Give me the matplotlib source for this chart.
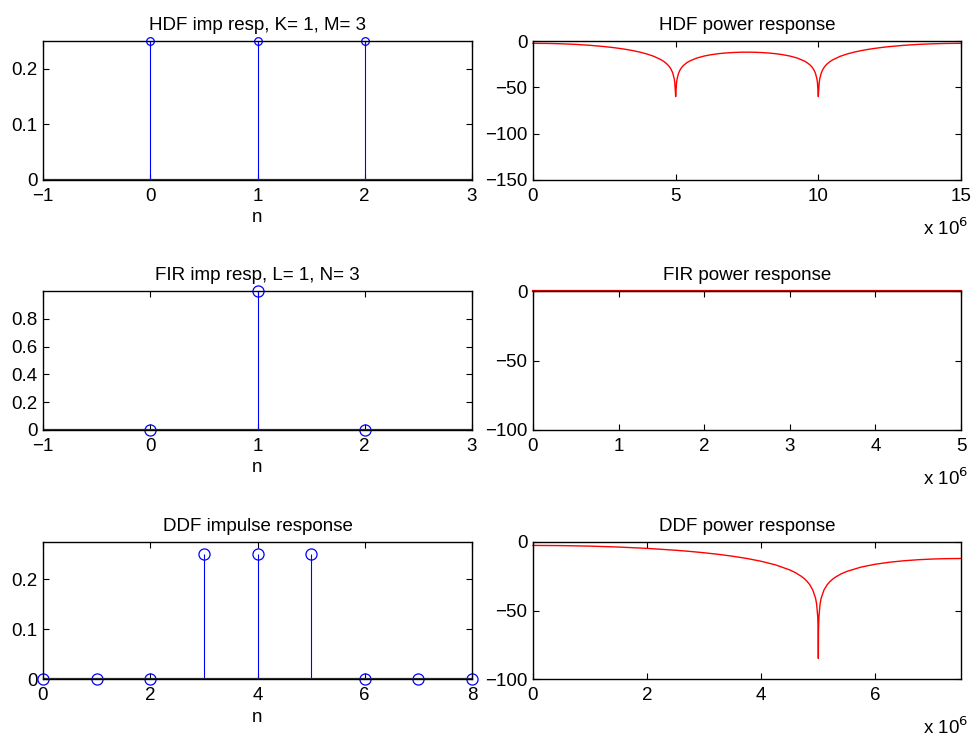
import numpy as np
import matplotlib
matplotlib.use('Agg')
import matplotlib.pyplot as plt
from matplotlib.ticker import FuncFormatter

plt.rcParams['font.family'] = ['Liberation Sans', 'DejaVu Sans']
plt.rcParams['font.size'] = 13.5

# impulse responses
hdf_n = [0, 1, 2]
hdf_h = [0.25, 0.25, 0.25]
fir_n = [0, 1, 2]
fir_h = [0, 1, 0]
ddf_n = [0, 1, 2, 3, 4, 5, 6, 7, 8]
ddf_h = [0, 0, 0, 0.25, 0.25, 0.25, 0, 0, 0]

# power responses, frequency in MHz, level in dB
hdf_f = [0, 0.5, 1, 1.5, 2, 2.5, 2.75, 3, 3.25, 3.5,
         3.75, 4, 4.25, 4.5, 4.6, 4.7, 4.75, 4.8, 4.85, 4.9,
         4.95, 4.97, 4.99, 5, 5.01, 5.03, 5.05, 5.1, 5.15, 5.2,
         5.25, 5.3, 5.4, 5.5, 5.75, 6, 6.25, 6.5, 6.75, 7,
         7.25, 7.5,
         7.75, 8, 8.25, 8.5, 8.75, 9, 9.25, 9.5,
         9.6, 9.7, 9.75, 9.8, 9.85, 9.9, 9.95, 9.97, 9.99, 10,
         10.01, 10.03, 10.05, 10.1, 10.15, 10.2, 10.25, 10.3, 10.4, 10.5,
         10.75, 11, 11.25, 11.5, 11.75, 12, 12.25, 12.5,
         13, 13.5, 14, 14.5, 15]
hdf_db = [-2.5, -2.63, -3.01, -3.68, -4.66, -6.02, -6.87, -7.86, -9.02, -10.39,
          -12.04, -14.08, -16.71, -20.4, -22.42, -25.0, -26.62, -28.61, -31.15, -34.85,
          -40.8, -45.25, -54.82, -60, -54.8, -45.3, -40.9, -34.94, -31.47, -29.03,
          -27.15, -25.63, -23.26, -21.46, -18.3, -16.22, -14.75, -13.69, -12.94, -12.43,
          -12.14, -12.04,
          -12.14, -12.43, -12.94, -13.69, -14.75, -16.22, -18.3, -21.46,
          -23.26, -25.63, -27.15, -29.03, -31.47, -34.94, -40.9, -45.3, -54.8, -60,
          -54.82, -45.25, -40.8, -34.85, -31.15, -28.61, -26.62, -25.0, -22.42, -20.4,
          -16.71, -14.08, -12.04, -10.39, -9.02, -7.86, -6.87, -6.02,
          -4.66, -3.68, -3.01, -2.63, -2.5]

fir_f = [0, 1, 2, 3, 4, 5]
fir_db = [0, 0, 0, 0, 0, 0]

ddf_f = [0, 0.5, 1, 1.5, 2, 2.5, 2.75, 3, 3.25, 3.5,
         3.75, 4, 4.25, 4.5, 4.6, 4.7, 4.75, 4.8, 4.85, 4.9,
         4.95, 4.97, 4.99, 4.997, 5, 5.003, 5.01, 5.03, 5.05, 5.1, 5.15, 5.2,
         5.25, 5.3, 5.4, 5.5, 5.75, 6, 6.25, 6.5, 6.75, 7,
         7.25, 7.5]
ddf_db = [-2.5, -2.63, -3.01, -3.68, -4.66, -6.02, -6.87, -7.86, -9.02, -10.39,
          -12.04, -14.08, -16.71, -20.4, -22.42, -25.0, -26.62, -28.61, -31.15, -34.85,
          -40.8, -45.25, -54.82, -65, -85, -65, -54.8, -45.3, -40.9, -34.94, -31.47, -29.03,
          -27.15, -25.63, -23.26, -21.46, -18.3, -16.22, -14.75, -13.69, -12.94, -12.43,
          -12.14, -12.04]

W, H = 973, 740
fig = plt.figure(figsize=(W / 100, H / 100), dpi=100)


def box(l, t, r, b):
    return [l / W, 1 - b / H, (r - l) / W, (b - t) / H]


def matlab_axes(ax, title):
    ax.tick_params(direction='in', top=True, right=True, length=4, width=0.8, labelsize=13.5)
    ax.tick_params(axis='x', pad=6)
    ax.tick_params(axis='y', pad=4)
    for s in ax.spines.values():
        s.set_linewidth(1.0)
    ax.set_title(title, fontsize=13.5, pad=8)


def add_exp(ax):
    ax.annotate('x 10$^{6}$', xy=(1, 0), xycoords='axes fraction', xytext=(7, -55),
                textcoords='offset pixels', ha='right', va='baseline', fontsize=13.5)


def stem_plot(ax, n, h, title, xlim, ylim, yticks, xticks, ms):
    ml, sl, bl = ax.stem(n, h, linefmt='b-', markerfmt='bo', basefmt='k-')
    ml.set_markerfacecolor('none')
    ml.set_markersize(ms)
    ml.set_markeredgewidth(0.9)
    ml.set_clip_on(False)
    sl.set_linewidth(0.8)
    bl.set_color('#333333')
    bl.set_linewidth(1.6)
    bl.set_xdata(xlim)
    ax.set_xlim(xlim)
    ax.set_ylim(ylim)
    ax.set_xticks(xticks)
    ax.set_yticks(yticks)
    ax.yaxis.set_major_formatter(FuncFormatter(lambda v, p: '0' if v == 0 else ('%g' % v)))
    ax.set_xlabel('n', fontsize=13.5, labelpad=3)
    matlab_axes(ax, title)


def power_plot(ax, f, db, title, xmax, ymin, yticks, xticks, lw=1.0):
    ax.plot(np.array(f) * 1e6, db, color='red', linewidth=lw, clip_on=False)
    ax.set_xlim(0, xmax * 1e6)
    ax.set_ylim(ymin, 0)
    ax.set_xticks(np.array(xticks) * 1e6)
    ax.set_yticks(yticks)
    ax.xaxis.set_major_formatter(FuncFormatter(lambda v, p: '%g' % (v / 1e6)))
    add_exp(ax)
    matlab_axes(ax, title)


ax1 = fig.add_axes(box(43, 41, 472, 180))
stem_plot(ax1, hdf_n, hdf_h, 'HDF imp resp, K= 1, M= 3', [-1, 3], [0, 0.25],
          [0, 0.1, 0.2], [-1, 0, 1, 2, 3], 5.5)

ax2 = fig.add_axes(box(533, 41, 961, 180))
power_plot(ax2, hdf_f, hdf_db, 'HDF power response', 15, -150, [-150, -100, -50, 0], [0, 5, 10, 15])

ax3 = fig.add_axes(box(43, 291, 472, 430))
stem_plot(ax3, fir_n, fir_h, 'FIR imp resp, L= 1, N= 3', [-1, 3], [0, 1],
          [0, 0.2, 0.4, 0.6, 0.8], [-1, 0, 1, 2, 3], 8)

ax4 = fig.add_axes(box(533, 291, 961, 430))
power_plot(ax4, fir_f, fir_db, 'FIR power response', 5, -100, [-100, -50, 0], [0, 1, 2, 3, 4, 5], lw=1.6)

ax5 = fig.add_axes(box(43, 542, 472, 679))
stem_plot(ax5, ddf_n, ddf_h, 'DDF impulse response', [0, 8], [0, 0.274],
          [0, 0.1, 0.2], [0, 2, 4, 6, 8], 8)

ax6 = fig.add_axes(box(533, 542, 961, 679))
power_plot(ax6, ddf_f, ddf_db, 'DDF power response', 7.5, -100, [-100, -50, 0], [0, 2, 4, 6])

fig.savefig('out.png', dpi=100)
